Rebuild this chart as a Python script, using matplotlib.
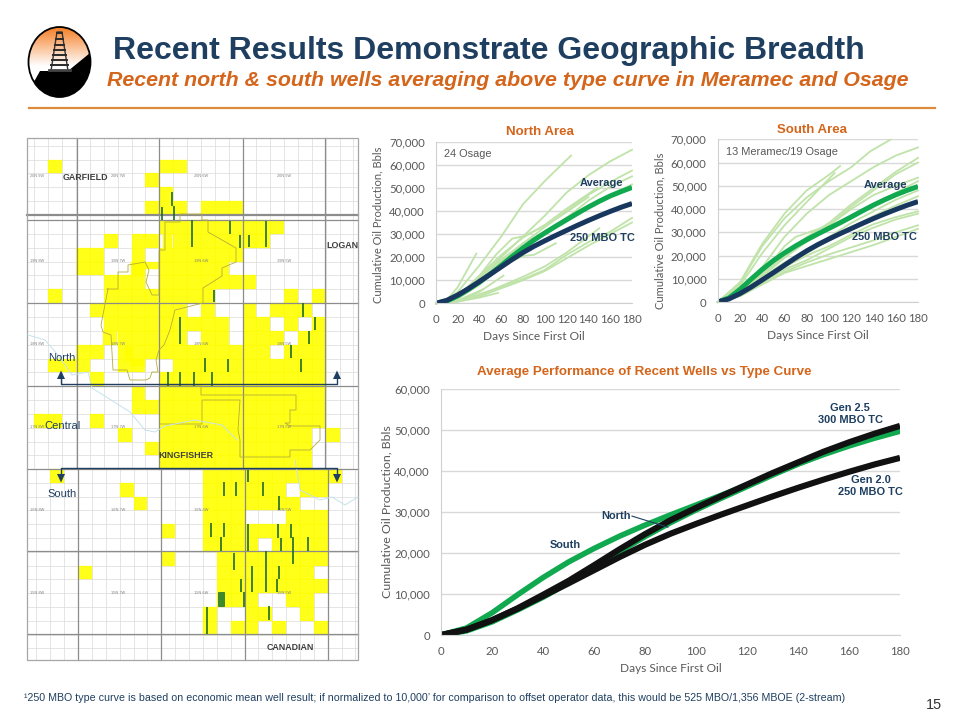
import numpy as np
import matplotlib
matplotlib.use('Agg')
import matplotlib.pyplot as plt
from matplotlib.ticker import FuncFormatter
from matplotlib.patches import Rectangle, Ellipse, Polygon

plt.rcParams['font.family'] = ['Liberation Sans', 'DejaVu Sans']

NAVY = '#1f3f60'
ORANGE = '#d4651b'
GREEN = '#10a94f'
LIGHT = '#bfe3a8'
DARKNAVY = '#17375e'
GREY = '#595959'
CHART_FONT = 'Lato'

# curves: one value every 10 days from 0 to 180
days = list(range(0, 190, 10))
north_avg = [0, 1000, 3200, 6100, 9200, 12700, 16400, 20300, 24000, 27400, 30500, 33400, 36200, 39000, 41700, 44200, 46500, 48400, 50200]
south_avg = [0, 1700, 5400, 9800, 14000, 17800, 21100, 24100, 26800, 29300, 31700, 34100, 36600, 39200, 41700, 44000, 46100, 48000, 49700]
gen25 = [0, 1300, 3600, 6500, 9800, 13200, 17000, 20900, 24600, 28000, 31000, 33900, 36700, 39500, 42100, 44700, 47000, 49100, 51000]
gen20 = [0, 1300, 3600, 6400, 9500, 12600, 15800, 19000, 22000, 24700, 27100, 29400, 31600, 33800, 35900, 37900, 39800, 41600, 43200]

# light green well curves, (days, cumulative oil)
north_wells = [
    ([0, 10, 20, 40, 60, 80, 100, 124], [0, 1500, 5000, 16500, 29000, 43000, 53000, 64000]),
    ([0, 20, 40, 60, 80, 100, 120, 140, 160, 180], [0, 3000, 11000, 20000, 29000, 38000, 48000, 55500, 61500, 66500]),
    ([0, 20, 40, 60, 80, 100, 120, 140, 160, 180], [0, 3000, 10000, 18000, 26000, 33000, 40000, 47000, 52500, 57500]),
    ([0, 20, 40, 60, 80, 100, 120, 140, 160, 180], [0, 3500, 11000, 19000, 26000, 31000, 37000, 44500, 50500, 55000]),
    ([0, 20, 40, 60, 80, 100, 120, 140, 160, 180], [0, 2500, 9500, 17000, 24500, 31000, 37000, 42000, 47000, 51500]),
    ([0, 10, 20, 37], [0, 1500, 7000, 21500]),
    ([0, 20, 40, 60, 80, 100, 120, 148], [0, 3000, 12000, 21000, 28500, 34000, 41000, 50000]),
    ([0, 20, 40, 55, 70, 80, 100, 120, 140], [0, 3000, 12000, 21000, 28000, 29000, 33500, 39500, 46000]),
    ([0, 20, 40, 60, 80, 100, 120], [0, 2500, 10000, 18000, 24000, 30000, 37000]),
    ([0, 20, 40, 60, 80, 90, 110], [0, 2000, 8000, 16000, 20500, 21000, 26000]),
    ([0, 20, 40, 60, 80, 100, 120, 140, 160, 180], [0, 1000, 4000, 7000, 10500, 14500, 21000, 26500, 31000, 37000]),
    ([0, 20, 40, 60, 80, 100, 120, 140, 160, 180], [0, 800, 3000, 6500, 10000, 14000, 19500, 25000, 30000, 35000]),
    ([0, 20, 40, 60, 80, 100, 120, 150], [0, 900, 3500, 7500, 11500, 16000, 22000, 32500]),
    ([0, 20, 40, 62], [0, 1000, 5000, 12000]),
    ([0, 20, 40, 57], [0, 700, 2500, 4500]),
    ([0, 20, 43], [0, 1200, 6000]),
]
south_wells = [
    ([0, 20, 40, 60, 80, 100, 120, 137, 155], [0, 8000, 24000, 36000, 45000, 52000, 58000, 64800, 69800]),
    ([0, 20, 40, 60, 80, 100, 110], [0, 8500, 25000, 38000, 48000, 54700, 58500]),
    ([0, 20, 40, 60, 80, 105], [0, 7000, 21000, 33000, 43000, 55500]),
    ([0, 20, 40, 60, 80, 100, 120, 140, 160, 180], [0, 5500, 15000, 28000, 38000, 46000, 52000, 58000, 63000, 66500]),
    ([0, 20, 40, 60, 80, 100, 120, 140, 160, 180], [0, 5000, 13000, 21000, 28000, 34000, 42000, 49000, 56000, 62000]),
    ([0, 20, 40, 60, 80, 100, 120, 140, 160, 180], [0, 4500, 12000, 20000, 26000, 33000, 41000, 48000, 55000, 60000]),
    ([0, 20, 40, 60, 70, 100, 120, 140, 160, 180], [0, 4500, 12000, 24000, 28000, 33000, 40000, 46000, 50000, 53500]),
    ([0, 20, 40, 60, 80, 100, 120, 140, 160, 180], [0, 4000, 11000, 19000, 26000, 31000, 36000, 42000, 47000, 52000]),
    ([0, 20, 40, 60, 80, 100, 120, 140, 160, 180], [0, 4000, 10500, 17000, 22000, 28000, 34000, 39000, 44000, 48000]),
    ([0, 20, 40, 60, 80, 100, 120, 140, 160, 180], [0, 3500, 10000, 16000, 21000, 26500, 32000, 37000, 41500, 45500]),
    ([0, 20, 40, 60, 80, 100, 120, 140, 160, 180], [0, 3000, 9000, 15000, 20000, 24000, 29000, 33500, 36500, 39000]),
    ([0, 20, 40, 60, 80, 100, 120, 140, 160, 180], [0, 3000, 8500, 14000, 18000, 23000, 28000, 32000, 35500, 38000]),
    ([0, 20, 40, 60, 80, 100, 120, 140, 160, 180], [0, 2500, 8000, 13000, 17000, 20500, 23500, 26500, 30000, 33000]),
    ([0, 20, 40, 60, 80, 100, 120, 140, 160, 180], [0, 2500, 7500, 12500, 15500, 18500, 21500, 24500, 28000, 31500]),
]

# map sections that are leased: row number -> columns (col 0 is the 6W west line)
lease_rows_a = {
    -4: [-8, 0, 1], -3: [-1], -2: [0], -1: [-1, 0, 1, 3, 4, 5],
    0: [0, 1, 2, 3, 4, 5, 6, 7, 8], 1: [-4, -2, -1, 1, 2, 3, 4, 5, 6, 7],
    2: [-6, -5, -2, 0, 1, 2, 3, 4, 5], 3: [-6, -5, -2, 0, 1, 2, 3, 4],
    4: [-4, -3, -2, 0, 1, 2, 3, 4, 5, 6], 5: [-8, -4, -3, -2, -1, 0, 1, 2, 3, 9, 11],
    6: [-5, -4, -3, -2, -1, 0, 1, 3, 6, 8, 9, 10], 7: [-4, -3, -2, -1, 0, 1, 2, 3, 4, 6, 7, 9, 11],
    8: [-3, -2, -1, 0, 1, 3, 4, 6, 7, 8, 10, 11], 9: [-6, -5, -3, -2, -1, 0, 1, 2, 3, 4, 5, 6, 7, 9, 10, 11],
    10: [-8, -7, -6, -3, -2, 1, 2, 3, 4, 5, 6, 7, 8, 9, 10, 11], 11: [-5, 0, 1, 2, 3, 4, 5, 6, 7, 8, 9, 10, 11],
    12: [-2, 0, 1, 2, 3, 4, 5, 6, 7, 8, 9, 10, 11], 13: [-2, -1, 0, 1, 2, 3, 4, 5, 6, 7, 8, 9, 10, 11],
    14: [-9, -8, -5, 0, 1, 2, 3, 4, 5, 6, 7, 8, 9, 10, 11], 15: [-3, 0, 1, 2, 3, 4, 5, 6, 7, 8, 9, 10, 12],
    16: [-1, 0, 1, 2, 3, 4, 5, 6, 7, 8, 9, 10], 17: [0, 1, 2, 3, 4, 5, 6, 7, 8, 9, 10],
}
lease_rows_b = {
    18: [-8, 3, 4, 5, 6, 7, 8, 9, 10, 11, 12], 19: [-3, 3, 4, 5, 6, 7, 8, 10, 11],
    20: [-2, 3, 4, 5, 6, 7, 8, 9], 21: [3, 4, 5, 9, 10, 11],
    22: [0, 3, 4, 5, 6, 7, 8, 9, 10, 11], 23: [3, 4, 5, 6, 8, 9, 10, 11],
    24: [0, 4, 5, 6, 7, 8, 9, 10, 11], 25: [-6, 4, 5, 6, 7, 8, 9, 10],
    26: [4, 5, 6, 7, 8, 9, 10, 11], 27: [4, 5, 6, 9, 10],
    28: [3, 6, 7, 10], 29: [3, 5, 6, 8, 11],
}
# part sections: x, y, width, height in picture pixels
lease_parts = [(163, 234, 9, 14), (145, 262, 14, 7), (131, 262, 14, 14), (125, 347, 7, 14), (103, 331, 14, 14), (131, 359, 14, 7)]

# horizontal wells on the map: x, top, bottom in picture pixels
wells = [
    (172, 192, 206), (162, 207, 220), (174, 206, 220), (192, 220, 247), (230, 221, 234), (240, 235, 248),
    (249, 235, 247), (266, 221, 247), (214, 290, 302), (303, 303, 317), (315, 317, 330), (309, 331, 344),
    (180, 317, 344), (291, 345, 358), (205, 358, 372), (228, 359, 372), (301, 359, 372), (168, 372, 386),
    (180, 372, 386), (194, 372, 386), (212, 372, 386),
    (248, 470, 482), (224, 482, 496), (236, 482, 496), (263, 482, 496), (279, 496, 510), (211, 523, 537),
    (224, 523, 537), (221, 537, 551), (248, 524, 551), (278, 524, 538), (291, 524, 538), (281, 538, 551),
    (293, 537, 564), (308, 537, 551), (234, 553, 570), (266, 551, 592), (252, 566, 592), (279, 566, 579),
    (277, 579, 592), (241, 579, 592), (244, 592, 607), (269, 606, 620), (207, 607, 634),
]
township_x = [77, 159, 243, 325]
township_x_low = [78, 161, 245, 328]
township_y = [215, 220, 303, 386, 469, 551, 634]
township_labels = ['20N 9W', '20N 7W', '20N 6W', '20N 5W', '19N 8W', '19N 7W', '19N 6W', '19N 5W',
                   '18N 8W', '18N 7W', '18N 6W', '18N 5W', '17N 8W', '17N 7W', '17N 6W', '17N 5W',
                   '16N 8W', '16N 7W', '16N 6W', '16N 5W', '15N 8W', '15N 7W', '15N 6W', '15N 5W']
label_x = [37, 118, 201, 284]
label_y = [176, 261, 344, 427, 510, 593]

fig = plt.figure(figsize=(9.6, 7.2), dpi=100)
bg = fig.add_axes([0, 0, 1, 1])
bg.set_xlim(0, 960)
bg.set_ylim(720, 0)
bg.axis('off')


def cell_y(r):
    if r < 0:
        return 215 + 13.85 * r
    if r < 18:
        return 220 + 13.85 * r
    return 469 + 13.8 * (r - 18)


# section lines first, leases go over them
for c in range(-10, 15):
    x = 159.3 + 13.87 * c
    if 27 < x < 358:
        bg.plot([x, x], [138, 469], color='#dadada', lw=0.5, zorder=1)
    x = 161.3 + 13.87 * c
    if 27 < x < 358:
        bg.plot([x, x], [469, 660], color='#dadada', lw=0.5, zorder=1)
for r in range(-6, 33):
    y = cell_y(r)
    if 138 < y < 660:
        bg.plot([27, 358], [y, y], color='#dadada', lw=0.5, zorder=1)

# yellow leases
for r, cols in lease_rows_a.items():
    for c in cols:
        bg.add_patch(Rectangle((159.3 + 13.87 * c, cell_y(r)), 13.87, 13.85, fc='#ffff00', ec='#ffff00', lw=0.2, alpha=0.9, zorder=2))
for r, cols in lease_rows_b.items():
    for c in cols:
        bg.add_patch(Rectangle((161.3 + 13.87 * c, cell_y(r)), 13.87, 13.8, fc='#ffff00', ec='#ffff00', lw=0.2, alpha=0.9, zorder=2))
for x, y, w, h in lease_parts:
    bg.add_patch(Rectangle((x, y), w, h, fc='#ffff00', ec='#ffff00', lw=0.2, alpha=0.9, zorder=2))

for x in township_x:
    bg.plot([x, x], [138, 469], color='#8c8c8c', lw=0.9, zorder=3)
for x in township_x_low:
    bg.plot([x, x], [469, 660], color='#8c8c8c', lw=0.9, zorder=3)
for y in township_y:
    bg.plot([27, 358], [y, y], color='#8c8c8c', lw=0.9 if y != 215 else 1.6, zorder=3)
bg.add_patch(Rectangle((27, 138), 331, 522, fc='none', ec='#a6a6a6', lw=0.9, zorder=3))

k = 0
for y in label_y:
    for x in label_x:
        bg.text(x, y, township_labels[k], fontsize=2.8, color='#808080', ha='center', va='center', zorder=4)
        k += 1

# unit outlines and river
outline_x = [107, 118, 118, 128, 128, 145, 149, 146, 152, 159, 159, 165, 165, 180, 180, 202, 202, 208, 208, 236, 236, 222, 222, 203, 203, 175, 170, 164, 159, 156, 158, 152, 150, 146, 130, 127, 113, 111, 103, 101, 108]
outline_y = [289, 289, 272, 272, 265, 262, 270, 282, 295, 295, 250, 250, 222, 222, 214, 214, 220, 220, 232, 248, 262, 268, 276, 288, 303, 310, 330, 345, 350, 360, 372, 372, 378, 380, 380, 370, 370, 335, 332, 325, 289]
bg.plot(outline_x, outline_y, color='#b5ad3a', lw=0.6, zorder=3)
unit2_x = [160, 201, 201, 238, 238, 296, 296, 290, 290, 285, 290, 320, 320, 310, 290, 290, 240, 240, 238, 240, 202, 202, 160]
unit2_y = [386, 386, 395, 395, 395, 395, 410, 410, 423, 423, 426, 426, 440, 450, 450, 457, 457, 440, 430, 400, 400, 424, 424]
bg.plot(unit2_x, unit2_y, color='#b5ad3a', lw=0.6, zorder=3)
river_x = [28, 45, 58, 72, 88, 92, 108, 130, 145, 155, 165, 195, 222, 237]
river_y = [335, 340, 355, 375, 372, 388, 398, 412, 430, 432, 426, 420, 425, 440]
bg.plot(river_x, river_y, color='#c5e3ea', lw=0.7, zorder=3)
river2_x = [295, 300, 320, 332, 345, 358]
river2_y = [460, 490, 500, 497, 505, 497]
bg.plot(river2_x, river2_y, color='#c5e3ea', lw=0.7, zorder=3)

for x, y0, y1 in wells:
    bg.plot([x, x], [y0, y1], color='#1f6b2c', lw=1.2, solid_capstyle='butt', zorder=5)
bg.add_patch(Rectangle((218, 592), 6, 14, fc='#3d8a2e', ec='#1f6b2c', lw=0.5, zorder=5))

# county names and section arrows
bg.text(63, 177, 'GARFIELD', fontsize=6.4, fontweight='bold', color='#404040', va='center', zorder=6)
bg.text(326, 246, 'LOGAN', fontsize=6.4, fontweight='bold', color='#404040', va='center', zorder=6)
bg.text(158, 456, 'KINGFISHER', fontsize=6.4, fontweight='bold', color='#404040', va='center', zorder=6)
bg.text(267, 647, 'CANADIAN', fontsize=6.4, fontweight='bold', color='#404040', va='center', zorder=6)
bg.text(48, 358, 'North', fontsize=8, color=NAVY, va='center', zorder=6)
bg.text(44, 426, 'Central', fontsize=8, color=NAVY, va='center', zorder=6)
bg.text(47, 494, 'South', fontsize=8, color=NAVY, va='center', zorder=6)
bg.plot([61, 61, 337, 337], [378, 384, 384, 378], color=NAVY, lw=1.0, zorder=6)
bg.plot([61, 61, 337, 337], [478, 468, 468, 478], color=NAVY, lw=1.0, zorder=6)
for x in [61, 337]:
    bg.add_patch(Polygon([(x - 4, 379), (x + 4, 379), (x, 370.5)], fc=NAVY, ec='none', zorder=6))
    bg.add_patch(Polygon([(x - 4, 474), (x + 4, 474), (x, 482.5)], fc=NAVY, ec='none', zorder=6))

# logo
clip = Ellipse((59.5, 62), 62, 70, transform=bg.transData, fc='none', ec='none')
bg.add_patch(clip)
g = np.clip(np.linspace(0, 1.15, 60), 0, 1).reshape(-1, 1)
grad = np.dstack([0.96 + 0.04 * g, 0.50 + 0.50 * g, 0.15 + 0.85 * g])
im = bg.imshow(grad, extent=[28, 91, 72, 27], aspect='auto', zorder=2)
im.set_clip_path(clip)
bg.set_xlim(0, 960)
bg.set_ylim(720, 0)
hill = bg.add_patch(Polygon([(25, 100), (25, 90), (35, 80), (40, 71), (68, 71), (90, 53), (95, 100)], fc='black', ec='none', zorder=3))
hill.set_clip_path(clip)
bg.add_patch(Ellipse((59.5, 62), 62, 70, fc='none', ec='black', lw=1.3, zorder=4))
bg.plot([51, 57, 57, 62, 62, 68], [71, 32, 32, 32, 32, 71], color='#333333', lw=1.0, zorder=4)
for y in [33, 39, 45, 50, 55, 60, 65]:
    w = (y - 31) * 0.19 + 2.2
    bg.plot([59.5 - w, 59.5 + w], [y, y], color='#2a2a2a', lw=1.4, zorder=4)
bg.plot([49, 70], [70, 70], color='#444444', lw=2.0, zorder=4)

# headings
bg.text(113, 59, 'Recent Results Demonstrate Geographic Breadth', fontsize=23, fontweight='bold', color=NAVY, va='baseline')
bg.text(107, 81, 'Recent north & south wells averaging above type curve in Meramec and Osage', fontsize=15.4,
        fontweight='bold', style='italic', color=ORANGE, va='center')
bg.plot([29, 935], [108, 108], color='#dd8a3c', lw=1.6)
bg.text(24, 698, '¹250 MBO type curve is based on economic mean well result; if normalized to 10,000’ for comparison to offset operator data, this would be 525 MBO/1,356 MBOE (2-stream)',
        fontsize=7.66, color=NAVY, va='center')
bg.text(942, 705, '15', fontsize=10.4, color='#333333', ha='right', va='center')


def make_axes(x0, x1, ytop, ybot, ymax, ystep, xstep, fs, yl_fs, yl_pos, yl_pad):
    ax = fig.add_axes([x0 / 960, 1 - ybot / 720, (x1 - x0) / 960, (ybot - ytop) / 720])
    ax.patch.set_alpha(0)
    ax.set_xlim(0, 180)
    ax.set_ylim(0, ymax)
    ax.set_xticks(range(0, 181, xstep))
    ax.set_yticks(range(0, ymax + 1, ystep))
    ax.yaxis.set_major_formatter(FuncFormatter(lambda v, p: f'{int(v):,}'))
    ax.grid(axis='y', color='#d9d9d9', lw=1.0)
    ax.set_axisbelow(True)
    ax.tick_params(length=0, labelsize=fs, labelcolor=GREY, pad=8)
    for lab in ax.get_xticklabels() + ax.get_yticklabels():
        lab.set_family(CHART_FONT)
    for s in ['top', 'right']:
        ax.spines[s].set_visible(False)
    for s in ['left', 'bottom']:
        ax.spines[s].set_color('#d0d0d0')
    ax.set_xlabel('Days Since First Oil', fontsize=fs + 0.4, color=GREY, family=CHART_FONT, labelpad=4)
    ax.set_ylabel('Cumulative Oil Production, Bbls', fontsize=yl_fs, color=GREY, family=CHART_FONT, labelpad=yl_pad, y=yl_pos)
    return ax


def well_panel(x0, x1, ytop, ybot, wells_list, avg, title, title_x, note, yl_pos):
    ax = make_axes(x0, x1, ytop, ybot, 70000, 10000, 20, 8.2, 8.0, yl_pos, 4)
    for wx, wy in wells_list:
        ax.plot(wx, wy, color=LIGHT, lw=1.3, solid_joinstyle='round', clip_on=False)
    ax.plot(days, avg, color=GREEN, lw=3.6, solid_joinstyle='round', solid_capstyle='butt')
    ax.plot(days, gen20, color=DARKNAVY, lw=3.6, solid_joinstyle='round', solid_capstyle='butt')
    ax.text(title_x, 1.06, title, transform=ax.transAxes, fontsize=9.5, fontweight='bold', color=ORANGE, ha='center', va='center')
    ax.text(0.04, 0.925, note, transform=ax.transAxes, fontsize=7.9, color=GREY, va='center')
    return ax


ax1 = well_panel(436, 632, 141.7, 303.3, north_wells, north_avg, 'North Area', 0.53, '24 Osage', 0.485)
ax1.text(132, 52300, 'Average', fontsize=7.9, fontweight='bold', color=NAVY, va='center')
ax1.text(123, 28500, '250 MBO TC', fontsize=7.9, fontweight='bold', color=NAVY, va='center')

ax2 = well_panel(717.7, 918, 139.3, 302, south_wells, south_avg, 'South Area', 0.47, '13 Meramec/19 Osage', 0.44)
ax2.text(131, 50500, 'Average', fontsize=7.9, fontweight='bold', color=NAVY, va='center')
ax2.text(121, 28000, '250 MBO TC', fontsize=7.9, fontweight='bold', color=NAVY, va='center')

ax3 = make_axes(441, 900, 389, 635, 60000, 10000, 20, 8.2, 8.9, 0.5, 1.5)
ax3.plot(days, south_avg, color=GREEN, lw=4.0, solid_joinstyle='round', solid_capstyle='butt')
ax3.plot(days, north_avg, color=GREEN, lw=4.0, solid_joinstyle='round', solid_capstyle='butt')
ax3.plot(days, gen20, color='#111111', lw=4.4, solid_joinstyle='round', solid_capstyle='butt')
ax3.plot(days, gen25, color='#111111', lw=4.4, solid_joinstyle='round', solid_capstyle='butt')
ax3.text(0.442, 1.07, 'Average Performance of Recent Wells vs Type Curve', transform=ax3.transAxes, fontsize=9.6,
         fontweight='bold', color=ORANGE, ha='center', va='center')
ax3.text(160.4, 53900, 'Gen 2.5\n300 MBO TC', fontsize=7.9, fontweight='bold', color=NAVY, ha='center', va='center', linespacing=1.25)
ax3.text(168.6, 36300, 'Gen 2.0\n250 MBO TC', fontsize=7.9, fontweight='bold', color=NAVY, ha='center', va='center', linespacing=1.25)
ax3.text(48.6, 21900, 'South', fontsize=7.9, fontweight='bold', color=NAVY, ha='center', va='center')
ax3.text(68.6, 29000, 'North', fontsize=7.9, fontweight='bold', color=NAVY, ha='center', va='center')
ax3.plot([74.9, 89], [29000, 26300], color=NAVY, lw=0.8)

fig.savefig('out.png', dpi=100)
